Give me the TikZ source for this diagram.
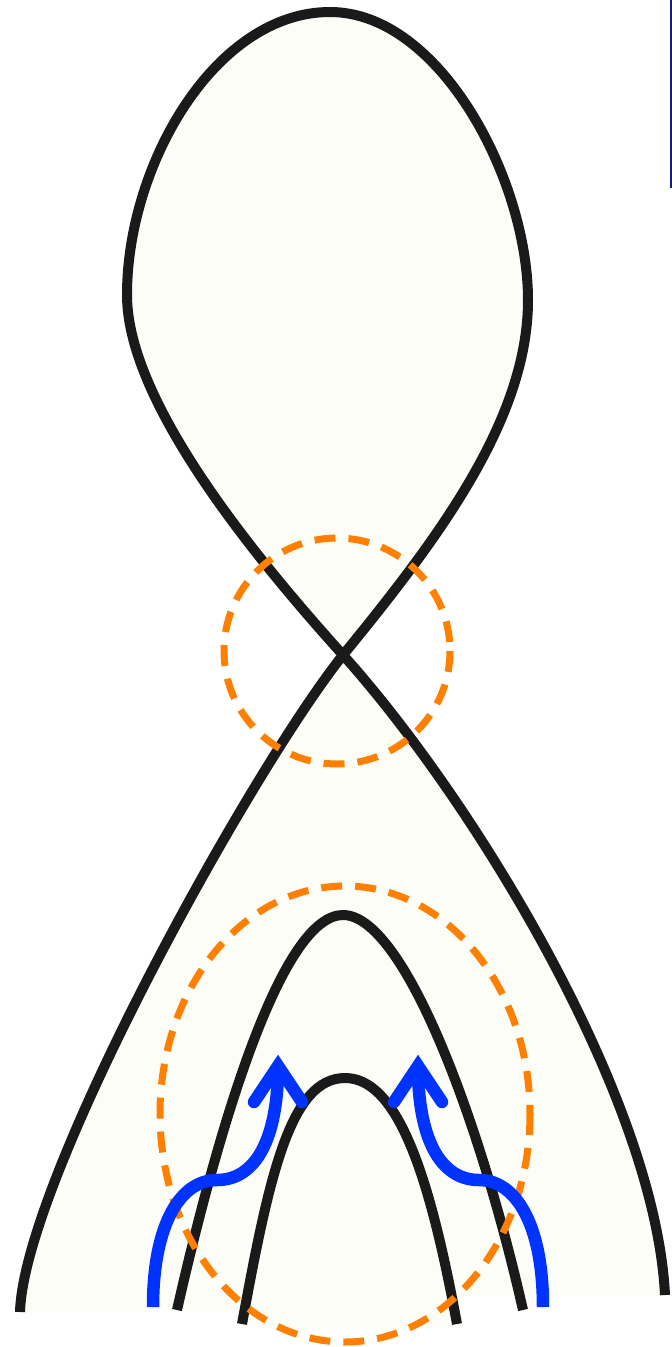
\documentclass[tikz,border=0pt]{standalone}
\definecolor{paper}{RGB}{252,253,246}
\definecolor{ink}{RGB}{26,26,26}
\definecolor{orng}{RGB}{255,128,0}
\definecolor{blu}{RGB}{0,51,255}
\definecolor{navy}{RGB}{20,30,120}
\tikzset{
  strand/.style={draw=ink, line width=10pt, line cap=butt, line join=round},
  ring/.style={draw=orng, line width=7pt, dash pattern=on 21pt off 13pt},
  flow/.style={draw=blu, line width=12.5pt, line cap=butt},
  flowhead/.style={draw=blu, line width=12.5pt, line cap=round, line join=miter}
}
\begin{document}
\begin{tikzpicture}[x=1pt,y=-1pt]
\fill[white] (0,0) rectangle (672,1347);
\useasboundingbox (0,0) rectangle (672,1347);
\coordinate (bl) at (20,1312);
\coordinate (br) at (665,1295);
\coordinate (x) at (343,655);
\coordinate (rgt) at (528,300);
\coordinate (top) at (330,12);
\coordinate (lft) at (127,295);
% fill of the region
\fill[paper] (bl) .. controls (24,1180) and (250,772) .. (x)
  .. controls (437,540) and (528,420) .. (rgt)
  .. controls (528,180) and (440,12) .. (top)
  .. controls (215,12) and (127,165) .. (lft)
  .. controls (127,405) and (263,566) .. (x)
  .. controls (470,796) and (655,1095) .. (br)
  -- (665,1296) -- (462,1296) -- (462,1328) -- (235,1328) -- (235,1312) -- cycle;
% main strand
\draw[strand] (bl) .. controls (24,1180) and (250,772) .. (x)
  .. controls (437,540) and (528,420) .. (rgt)
  .. controls (528,180) and (440,12) .. (top)
  .. controls (215,12) and (127,165) .. (lft)
  .. controls (127,405) and (263,566) .. (x)
  .. controls (470,796) and (655,1095) .. (br);
% outer arch
\coordinate (oa1) at (177,1310);
\coordinate (oap) at (343,915);
\coordinate (oa2) at (523,1310);
\draw[strand] (oa1) .. controls (221,1116) and (283,915) .. (oap)
  .. controls (403,915) and (479,1116) .. (oa2);
% inner arch
\coordinate (ia1) at (242,1324);
\coordinate (iap) at (345,1078);
\coordinate (ia2) at (457,1324);
\draw[strand] (ia1) .. controls (269,1177) and (290,1078) .. (iap)
  .. controls (398,1078) and (430,1177) .. (ia2);
% dashed circles
\draw[ring] (337,651) circle[radius=113];
\draw[ring] (345,1114) ellipse[x radius=185, y radius=228];
% blue arrows
\coordinate (a1s) at (153,1307);
\coordinate (a1t) at (278,1066);
\coordinate (a2s) at (543,1307);
\coordinate (a2t) at (418,1066);
\draw[flow] (a1s) .. controls (153,1225) and (180,1180) .. (217,1180)
  .. controls (255,1180) and (278,1140) .. (a1t);
\draw[flowhead] (254,1102) -- (a1t) -- (302,1102);
\draw[flow] (a2s) .. controls (543,1225) and (516,1180) .. (479,1180)
  .. controls (441,1180) and (418,1140) .. (a2t);
\draw[flowhead] (394,1102) -- (a2t) -- (442,1102);
% thin line at top right
\draw[navy, line width=1.5pt] (671,0) -- (671,188);
\end{tikzpicture}
\end{document}
